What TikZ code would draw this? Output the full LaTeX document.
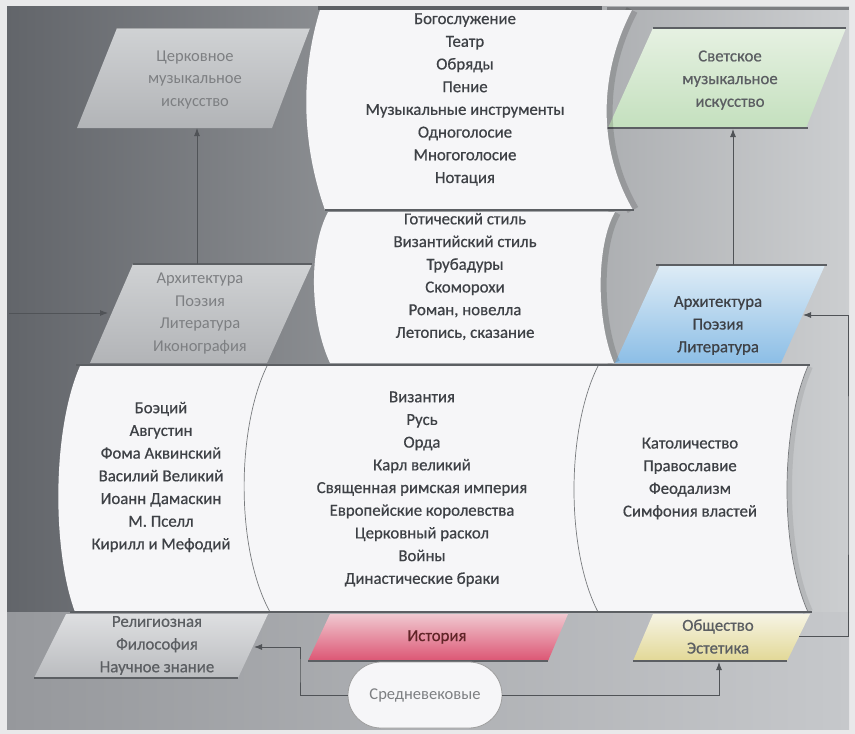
\documentclass[tikz,border=0pt]{standalone}
\usepackage{fontspec}
\setmainfont{Carlito}
\newfontfamily\boldishfont[FakeBold=0.6]{Carlito}
\usetikzlibrary{arrows.meta}
\definecolor{framebg}{RGB}{233,233,234}
\definecolor{bgL}{RGB}{98,101,106}
\definecolor{bgM}{RGB}{122,124,128}
\definecolor{bgR}{RGB}{204,206,208}
\definecolor{bbL}{RGB}{150,152,156}
\definecolor{bbR}{RGB}{198,200,203}
\definecolor{wbox}{RGB}{246,246,248}
\definecolor{chT}{RGB}{208,210,212}
\definecolor{chB}{RGB}{178,180,183}
\definecolor{grT}{RGB}{230,241,226}
\definecolor{grB}{RGB}{196,224,190}
\definecolor{blT}{RGB}{222,236,246}
\definecolor{blB}{RGB}{140,190,230}
\definecolor{reT}{RGB}{222,223,225}
\definecolor{reB}{RGB}{186,188,191}
\definecolor{hiT}{RGB}{240,200,208}
\definecolor{hiB}{RGB}{220,85,115}
\definecolor{obT}{RGB}{246,244,228}
\definecolor{obB}{RGB}{226,216,150}
\definecolor{pedge}{RGB}{92,95,99}
\definecolor{txtdark}{RGB}{62,65,70}
\definecolor{txtlight}{RGB}{125,127,130}
\definecolor{conncol}{RGB}{80,83,87}
\definecolor{curvecol}{RGB}{120,122,125}
\tikzset{
  wtext/.style={align=center, text=txtdark, font=\boldishfont\fontsize{16.8}{22.7}\selectfont, inner sep=0pt},
  ltext/.style={align=center, text=txtlight, font=\fontsize{16.5}{22.5}\selectfont, inner sep=0pt},
  conn/.style={draw=conncol, line width=0.9pt, -{Latex[length=8pt,width=6pt]}},
  hedge/.style={draw=pedge, line width=1.5pt},
  wcurve/.style={draw=curvecol, line width=0.7pt},
  pill/.style={draw=gray!75, line width=0.8pt, fill=wbox, rounded corners=33pt, minimum width=154pt, minimum height=66pt, inner sep=0pt, text=txtlight, font=\fontsize{16.5}{18}\selectfont}
}
\begin{document}
\begin{tikzpicture}[x=1pt,y=-1pt]
\useasboundingbox (0,0) rectangle (855,734);
% background
\fill[framebg] (0,0) rectangle (855,734);
\shade[left color=bgL, middle color=bgM, right color=bgR] (7,6) rectangle (849,612);
\shade[left color=bbL, right color=bbR] (7,612) rectangle (849,729);
\draw[line width=3.5pt, draw=pedge] (318,8) -- (602,8);
\draw[line width=3pt, draw=pedge!80] (607,8) -- (849,8);

% upper parallelograms
\shade[top color=chT, bottom color=chB] (117,28) -- (310,28) -- (272,128) -- (77,128) -- cycle;
\draw[draw=chT!80!black, line width=0.8pt] (117,28) -- (310,28);
\shade[top color=chT, bottom color=chB] (133,264) -- (312,264) -- (267,363) -- (90,363) -- cycle;
\draw[hedge, line width=1.2pt] (133,264) -- (312,264);
\shade[top color=grT, bottom color=grB] (653,28) -- (846,28) -- (806,128) -- (608,128) -- cycle;
\draw[hedge] (653,28) -- (846,28);
\draw[hedge] (606,128) -- (808,128);
\shade[top color=blT, bottom color=blB] (660,265) -- (825,265) -- (781,363) -- (615,363) -- cycle;
\draw[hedge] (656,265) -- (827,265);

% shadows of right curves
\draw[line width=12pt, draw=black, opacity=0.14] (632,10) .. controls (598,75) and (598,150) .. (633,210);
\draw[line width=12pt, draw=black, opacity=0.14] (615,212) .. controls (596,245) and (596,320) .. (614,363);
\draw[line width=10pt, draw=black, opacity=0.08] (808,366) .. controls (780,430) and (780,550) .. (808,612);

% white boxes
\fill[wbox] (320,10) -- (632,10) .. controls (598,75) and (598,150) .. (633,210) -- (325,210) .. controls (302,145) and (300,75) .. (320,10) -- cycle;
\fill[wbox] (328,212) -- (615,212) .. controls (596,245) and (596,320) .. (614,363) -- (330,363) .. controls (310,320) and (308,250) .. (328,212) -- cycle;
\fill[wbox] (80,366) -- (808,366) .. controls (780,430) and (780,550) .. (808,612) -- (75,612) .. controls (52,550) and (52,430) .. (80,366) -- cycle;
\draw[wcurve] (808,366) .. controls (780,430) and (780,550) .. (808,612);
\draw[wcurve] (267,366) .. controls (236,430) and (236,550) .. (270,612);
\draw[wcurve] (598,366) .. controls (566,430) and (566,550) .. (598,612);
\draw[hedge, line width=1.3pt] (325,210) -- (634,210);
\draw[hedge] (76,365) -- (810,365);
\draw[hedge] (70,612) -- (812,612);

% lower parallelograms
\shade[top color=reT, bottom color=reB] (66,614) -- (268,614) -- (238,678) -- (34,678) -- cycle;
\draw[hedge] (34,678) -- (238,678);
\shade[top color=hiT, bottom color=hiB] (330,614) -- (568,614) -- (548,661) -- (308,661) -- cycle;
\draw[hedge] (308,661) -- (548,661);
\shade[top color=obT, bottom color=obB] (653,614) -- (810,614) -- (787,661) -- (633,661) -- cycle;
\draw[hedge] (633,661) -- (787,661);

% pill
\node[pill] (sred) at (425,695) {Средневековые};

% connectors
\coordinate (chBot) at (197,128);
\coordinate (laTop) at (197,264);
\draw[conn] (laTop) -- (chBot);
\coordinate (lin) at (9,313);
\coordinate (laL) at (108,313);
\draw[conn] (lin) -- (laL);
\coordinate (grBot) at (733,129);
\coordinate (blTop) at (733,265);
\draw[conn] (blTop) -- (grBot);
\coordinate (obR) at (799,636);
\coordinate (rr) at (848,475);
\coordinate (blR) at (803,315);
\draw[conn] (obR) -| (rr) |- (blR);
\coordinate (obBot) at (719,662);
\draw[conn] (sred.east) -| (obBot);
\coordinate (lk) at (300,670);
\coordinate (reR) at (254,647);
\draw[conn] (sred.west) -| (lk) |- (reR);

% texts
\node[wtext] (musik) at (465,99.5) {Богослужение\\Театр\\Обряды\\Пение\\Музыкальные инструменты\\Одноголосие\\Многоголосие\\Нотация};
\node[wtext] (stil) at (465,276.5) {Готический стиль\\Византийский стиль\\Трубадуры\\Скоморохи\\Роман, новелла\\Летопись, сказание};
\node[wtext] (phil) at (161,477) {Боэций\\Августин\\Фома Аквинский\\Василий Великий\\Иоанн Дамаскин\\М. Пселл\\Кирилл и Мефодий};
\node[wtext] (hist) at (422,489) {Византия\\Русь\\Орда\\Карл великий\\Священная римская империя\\Европейские королевства\\Церковный раскол\\Войны\\Династические браки};
\node[wtext] (soc) at (690,478.5) {Католичество\\Православие\\Феодализм\\Симфония властей};
\node[ltext] (church) at (195,80) {Церковное\\музыкальное\\искусство};
\node[wtext, text=txtdark!85] (svet) at (730,80) {Светское\\музыкальное\\искусство};
\node[ltext] (archL) at (200,313.5) {Архитектура\\Поэзия\\Литература\\Иконография};
\node[wtext] (archR) at (718,325.5) {Архитектура\\Поэзия\\Литература};
\node[wtext, text=txtdark!85] (relig) at (157,645.5) {Религиозная\\Философия\\Научное знание};
\node[wtext, text=txtdark!70!red!80!black] (istor) at (437,637) {История};
\node[wtext, text=txtdark!85] (obsh) at (718,636.5) {Общество\\Эстетика};
\end{tikzpicture}
\end{document}
